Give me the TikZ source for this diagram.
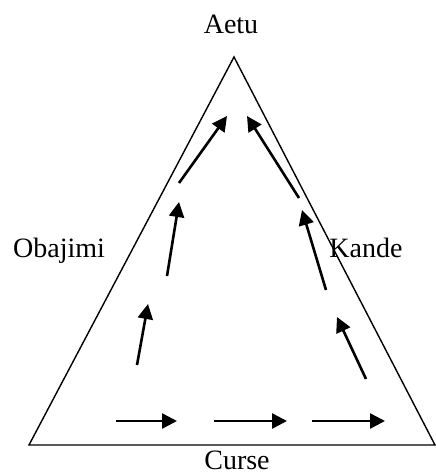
\documentclass[tikz,border=0pt]{standalone}
\usepackage{fontspec}
\setmainfont{Liberation Serif}
\usepackage{tikz}
\usetikzlibrary{arrows.meta}

\tikzset{
    flow/.style={line width=2.6pt, -{Triangle[length=15pt,width=15pt]}},
    corner/.style={font=\fontsize{28}{30}\selectfont, anchor=base, inner sep=0pt}
}

\begin{document}
\begin{tikzpicture}[x=1pt, y=-1pt]
    \useasboundingbox (0,0) rectangle (436,474);

    \coordinate (top) at (234,57);
    \coordinate (left) at (29,445);
    \coordinate (right) at (435,445);
    \draw[line width=1.4pt] (top) -- (left) -- (right) -- cycle;

    \node[corner] (aetu) at (231,33) {Aetu};
    \node[corner] (obajimi) at (59,257) {Obajimi};
    \node[corner] (kande) at (366,257) {Kande};
    \node[corner] (curse) at (237,469) {Curse};

    % left side, going up
    \coordinate (l1a) at (137,365); \coordinate (l1b) at (148,304);
    \coordinate (l2a) at (167,276); \coordinate (l2b) at (179,202);
    \coordinate (l3a) at (179,183); \coordinate (l3b) at (227,116);
    \draw[flow] (l1a) -- (l1b);
    \draw[flow] (l2a) -- (l2b);
    \draw[flow] (l3a) -- (l3b);

    % right side, going up
    \coordinate (r1a) at (366,379); \coordinate (r1b) at (337,317);
    \coordinate (r2a) at (326,290); \coordinate (r2b) at (302,210);
    \coordinate (r3a) at (299,198); \coordinate (r3b) at (247,116);
    \draw[flow] (r1a) -- (r1b);
    \draw[flow] (r2a) -- (r2b);
    \draw[flow] (r3a) -- (r3b);

    % bottom, left to right
    \coordinate (b1a) at (116,421); \coordinate (b1b) at (177,421);
    \coordinate (b2a) at (214,421); \coordinate (b2b) at (287,421);
    \coordinate (b3a) at (312,421); \coordinate (b3b) at (385,421);
    \draw[flow] (b1a) -- (b1b);
    \draw[flow] (b2a) -- (b2b);
    \draw[flow] (b3a) -- (b3b);
\end{tikzpicture}
\end{document}
